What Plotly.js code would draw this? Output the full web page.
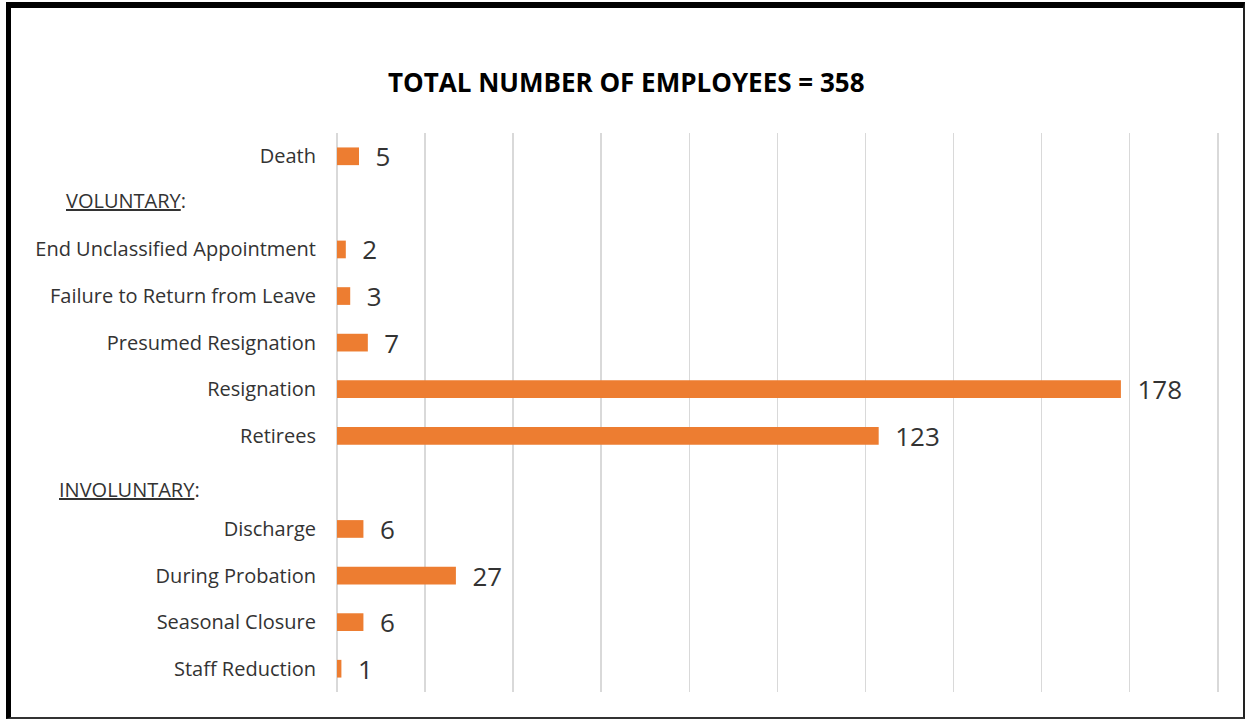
<!DOCTYPE html>
<html>
<head>
<meta charset="utf-8">
<script src="https://cdn.plot.ly/plotly-3.0.1.min.js"></script>
<style>
  html, body { margin: 0; padding: 0; background: #fff; }
  #chart { position: absolute; left: 0; top: 0; width: 1245px; height: 721px; }
  #frame {
    position: absolute; left: 6px; top: 2px; width: 1239px; height: 717px;
    box-sizing: border-box; pointer-events: none;
    border-left: 5px solid #000; border-top: 6px solid #000;
    border-right: 2px solid #222; border-bottom: 2px solid #333;
  }
</style>
</head>
<body>
<div id="chart"></div>
<div id="frame"></div>
<script>
// Row order, top to bottom (section headers have no bar)
const categories = [
  "Death",
  "VOLUNTARY:",
  "End Unclassified Appointment",
  "Failure to Return from Leave",
  "Presumed Resignation",
  "Resignation",
  "Retirees",
  "INVOLUNTARY:",
  "Discharge",
  "During Probation",
  "Seasonal Closure",
  "Staff Reduction"
];
const values = [5, null, 2, 3, 7, 178, 123, null, 6, 27, 6, 1];
const tickLabels = [
  "Death", "", "End Unclassified Appointment", "Failure to Return from Leave",
  "Presumed Resignation", "Resignation", "Retirees", "",
  "Discharge", "During Probation", "Seasonal Closure", "Staff Reduction"
];
const headers = ["VOLUNTARY:", "INVOLUNTARY:"];
const headerTexts = ["<u>VOLUNTARY</u>:", "<u>INVOLUNTARY</u>:"];
const titleText = "TOTAL NUMBER OF EMPLOYEES = 358";

const FONT = "'Open Sans', 'Liberation Sans', sans-serif";

const trace = {
  type: "bar",
  orientation: "h",
  y: categories,
  x: values,
  marker: { color: "#ED7D31" },
  text: values.map(v => v === null ? "" : String(v)),
  texttemplate: "\u00a0\u00a0%{text}",
  textposition: "outside",
  constraintext: "none",
  cliponaxis: false,
  textfont: { family: FONT, size: 26, color: "#333333" },
  hoverinfo: "none"
};

const layout = {
  width: 1245,
  height: 721,
  paper_bgcolor: "rgba(0,0,0,0)",
  plot_bgcolor: "#fff",
  margin: { l: 337, r: 25, t: 133, b: 29 },
  bargap: 0.62,
  showlegend: false,
  title: {
    text: titleText,
    font: { family: FONT, size: 26, color: "#000", weight: 700 },
    xref: "container", x: 0.503, xanchor: "center",
    yref: "container", y: 1 - 83 / 721, yanchor: "middle"
  },
  xaxis: {
    range: [0, 200.5],
    dtick: 20,
    showgrid: true,
    gridcolor: "#d9d9d9",
    gridwidth: 1.5,
    zeroline: true,
    zerolinecolor: "#d9d9d9",
    zerolinewidth: 1.5,
    showticklabels: false,
    ticks: "",
    showline: false,
    fixedrange: true
  },
  yaxis: {
    type: "category",
    categoryorder: "array",
    categoryarray: categories,
    autorange: "reversed",
    tickvals: categories,
    ticktext: tickLabels,
    ticks: "",
    ticklabelstandoff: 20,
    tickfont: { family: FONT, size: 20, color: "#333333" },
    showgrid: false,
    zeroline: false,
    showline: false,
    fixedrange: true
  },
  annotations: [
    {
      xref: "paper", yref: "y", x: (64 - 337) / 883, y: headers[0],
      xanchor: "left", yanchor: "middle", yshift: 2.5, showarrow: false,
      text: headerTexts[0],
      font: { family: FONT, size: 20, color: "#333333" }
    },
    {
      xref: "paper", yref: "y", x: (57 - 337) / 883, y: headers[1],
      xanchor: "left", yanchor: "middle", yshift: -7, showarrow: false,
      text: headerTexts[1],
      font: { family: FONT, size: 20, color: "#333333" }
    }
  ]
};

Plotly.newPlot("chart", [trace], layout, { displayModeBar: false, staticPlot: true });
</script>
</body>
</html>
